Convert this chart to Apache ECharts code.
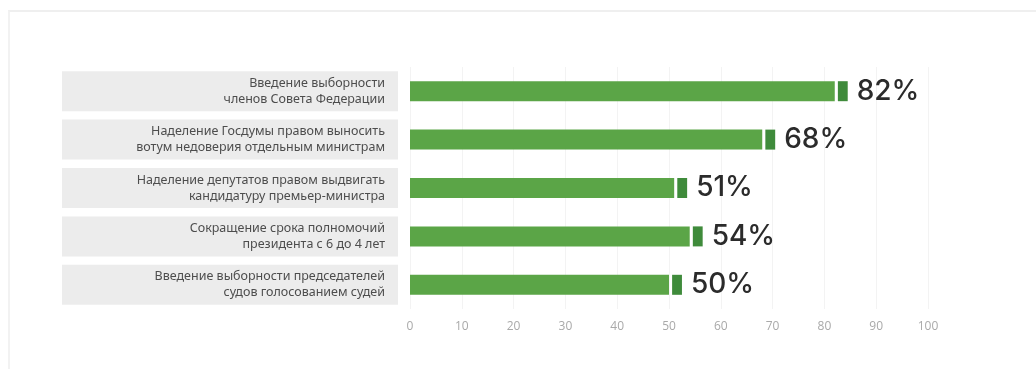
<!DOCTYPE html>
<html>
<head>
<meta charset="utf-8">
<script src="https://cdn.jsdelivr.net/npm/echarts@6/dist/echarts.min.js"></script>
<style>
  html, body { margin: 0; padding: 0; background: #fff; }
  .frame {
    position: absolute; left: 8px; top: 10px; width: 1040px; height: 370px;
    border-top: 2px solid #efefef; border-left: 2px solid #f2f2f2;
  }
  #chart { position: absolute; left: 0; top: 0; width: 1036px; height: 369px; }
</style>
</head>
<body>
<div class="frame"></div>
<div id="chart"></div>
<script>
// данные
var categories = [
  'Введение выборности\nчленов Совета Федерации',
  'Наделение Госдумы правом выносить\nвотум недоверия отдельным министрам',
  'Наделение депутатов правом выдвигать\nкандидатуру премьер-министра',
  'Сокращение срока полномочий\nпрезидента с 6 до 4 лет',
  'Введение выборности председателей\nсудов голосованием судей'
];
var values = [82, 68, 51, 54, 50];
var xTicks = [0, 10, 20, 30, 40, 50, 60, 70, 80, 90, 100];

var chart = echarts.init(document.getElementById('chart'));
var option = {
  animation: false,
  grid: { left: 410, right: 108, top: 67, bottom: 60, containLabel: false },
  xAxis: {
    type: 'value', min: xTicks[0], max: xTicks[xTicks.length - 1], interval: 10,
    axisLine: { show: false }, axisTick: { show: false },
    splitLine: { lineStyle: { color: '#f3f3f3', width: 1 } },
    axisLabel: { color: '#a9a9a9', fontSize: 12, margin: 12, fontFamily: 'Open Sans' }
  },
  yAxis: {
    type: 'category', data: categories, inverse: true,
    axisLine: { show: false }, axisTick: { show: false },
    axisLabel: {
      margin: 12,
      width: 316,
      align: 'right',
      backgroundColor: '#ececec',
      padding: [4, 13, 4, 7],
      lineHeight: 16,
      color: '#4d4d4d',
      fontSize: 12.5,
      fontFamily: 'Noto Sans'
    }
  },
  series: [
    {
      type: 'bar', stack: 'a', data: values, barWidth: 20,
      itemStyle: { color: '#5ba547' }
    },
    {
      type: 'bar', stack: 'a', data: values.map(function () { return 0.6; }), barWidth: 20,
      itemStyle: { color: 'rgba(0,0,0,0)' }, silent: true
    },
    {
      type: 'bar', stack: 'a', data: values.map(function () { return 1.9; }), barWidth: 20,
      itemStyle: { color: '#3f8b3b' },
      label: {
        show: true, position: 'right', distance: 9,
        formatter: function (p) { return values[p.dataIndex] + '%'; },
        color: '#2b2b2b', fontSize: 28, fontWeight: 500, fontFamily: 'Inter'
      }
    }
  ]
};
chart.setOption(option);
</script>
</body>
</html>
